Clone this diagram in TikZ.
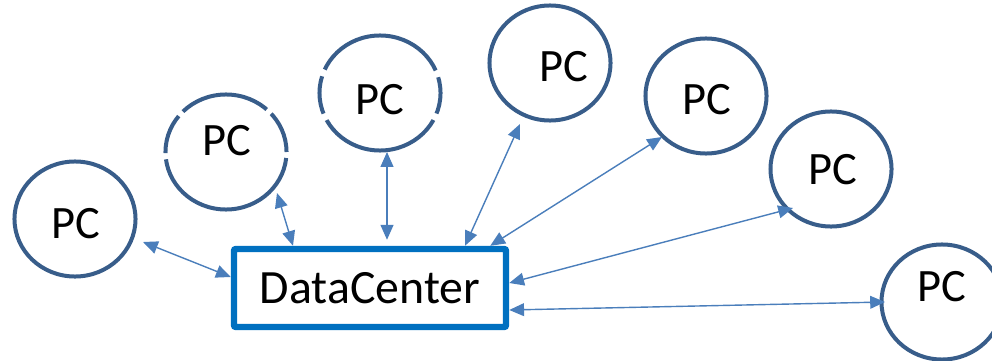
\documentclass[tikz,border=0pt]{standalone}
\usepackage{fontspec}
\setmainfont{Carlito}
\usetikzlibrary{arrows.meta, shapes.geometric, calc}

\definecolor{pcline}{HTML}{385D8A}
\definecolor{dcline}{HTML}{0070C0}
\definecolor{wireblue}{HTML}{4A7EBB}

\tikzset{
  pc/.style={ellipse, draw=pcline, line width=0.1cm, minimum width=3.025cm, minimum height=2.875cm, inner sep=0pt},
  pctext/.style={font=\fontsize{33}{36}\selectfont},
  dc/.style={rectangle, draw=dcline, line width=0.16cm, rounded corners=0.05cm, minimum width=6.8cm, minimum height=1.95cm, font=\fontsize{34}{38}\selectfont},
  wire/.style={draw=wireblue, line width=0.035cm, {Triangle[length=0.37cm,width=0.32cm]}-{Triangle[length=0.37cm,width=0.32cm]}},
  % broken outlines of the second and third PC
  brokenA/.style={dash pattern=on 1.055cm off 0.155cm on 2.2925cm off 0.155cm on 1.005cm off 0.155cm on 4.3cm off 0.155cm},
  brokenB/.style={dash pattern=on 0.9275cm off 0.18cm on 3.45cm off 0.18cm on 0.9525cm off 0.18cm on 3.219cm off 0.18cm, dash phase=0.528cm},
}

\begin{document}
\begin{tikzpicture}[x=0.025cm, y=-0.025cm]
\useasboundingbox (0,0) rectangle (992,361);

% nodes
\node[dc] (dc) at (370,288) {DataCenter};

\node[pc, label={[pctext, shift={(1,5)}]center:PC}] (pc1) at (75,219) {};
\node[pc, brokenA, label={[pctext, solid, shift={(1,-11)}]center:PC}] (pc2) at (226,152) {};
\node[pc, brokenB, label={[pctext, solid, shift={(0,7)}]center:PC}] (pc3) at (380,93) {};
\node[pc, label={[pctext, shift={(14,4)}]center:PC}] (pc4) at (550,63) {};
\node[pc, label={[pctext, shift={(1,4)}]center:PC}] (pc5) at (706,96) {};
\node[pc, label={[pctext, shift={(2,1)}]center:PC}] (pc6) at (831,169) {};
\node[pc, label={[pctext, shift={(0,-15)}]center:PC}] (pc7) at (942,302) {};

% arrows
\draw[wire] ($(pc1)+(68,23)$) -- ($(dc.west)+(0,-11)$);
\draw[wire] ($(pc2)+(51,41)$) -- ($(dc.north)+(-77,0)$);
\draw[wire] ($(pc3)+(7,59)$) -- ($(dc.north)+(17,-6)$);
\draw[wire] ($(pc4)+(-30,61)$) -- ($(dc.north)+(95,0)$);
\draw[wire] ($(pc5)+(-44,41)$) -- ($(dc.north east)+(-19,0)$);
\draw[wire] ($(pc6)+(-38,39)$) -- ($(dc.east)+(0,-5)$);
\draw[wire] ($(pc7)+(-57,0)$) -- ($(dc.east)+(0,22)$);

\end{tikzpicture}
\end{document}
